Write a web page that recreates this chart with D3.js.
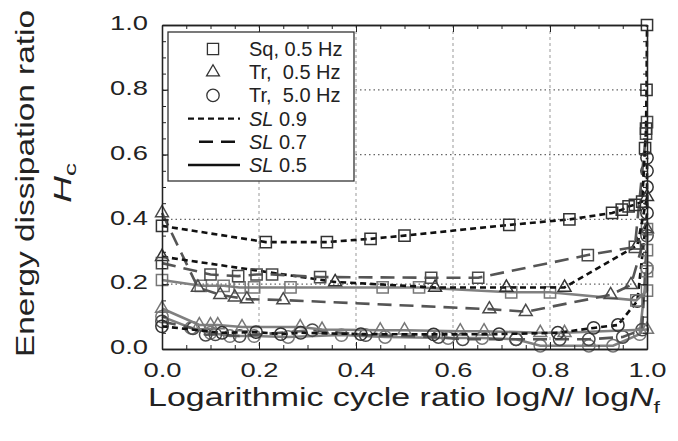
<!DOCTYPE html>
<html>
<head>
<meta charset="utf-8">
<script src="https://cdn.jsdelivr.net/npm/d3@7"></script>
<style>
  body { margin: 0; background: #fff; }
  text { font-family: "Liberation Sans", Arial, sans-serif; fill: #222; }
</style>
</head>
<body>
<div id="chart"></div>
<script>
// values (x = logN/logNf, y = Hc)
const xTicks = [0, 0.2, 0.4, 0.6, 0.8, 1.0];
const yTicks = [0, 0.2, 0.4, 0.6, 0.8, 1.0];
const minorTicks = d3.range(0, 1.0001, 0.05);
const gridValues = [0.2, 0.4, 0.6, 0.8];

// square wave, 0.5 Hz
const sqX09 = [0, 0.214, 0.34, 0.43, 0.50, 0.716, 0.84, 0.928, 0.948, 0.962, 0.975, 0.99, 0.996, 0.998, 0.999, 1.0];
const sqY09 = [0.38, 0.33, 0.33, 0.34, 0.35, 0.383, 0.40, 0.42, 0.43, 0.44, 0.445, 0.455, 0.62, 0.68, 0.80, 1.0];
const sqX07 = [0, 0.10, 0.157, 0.195, 0.227, 0.326, 0.555, 0.652, 0.878, 0.975, 0.998, 1.0];
const sqY07 = [0.265, 0.23, 0.225, 0.23, 0.23, 0.222, 0.22, 0.22, 0.29, 0.315, 0.665, 0.70];
const sqX05 = [0, 0.08, 0.127, 0.16, 0.19, 0.265, 0.455, 0.53, 0.72, 0.80, 0.978, 1.0, 1.0, 1.0, 1.0];
const sqY05 = [0.213, 0.195, 0.195, 0.19, 0.19, 0.19, 0.19, 0.19, 0.175, 0.175, 0.15, 0.18, 0.24, 0.305, 0.37];

// triangular wave, 0.5 Hz
const trX09 = [0, 0.357, 0.563, 0.71, 0.83, 0.98, 1.0];
const trY09 = [0.285, 0.207, 0.19, 0.19, 0.19, 0.32, 0.47];
const trX07 = [0, 0.074, 0.12, 0.15, 0.175, 0.25, 0.675, 0.75, 0.925, 0.967, 1.0];
const trY07 = [0.42, 0.19, 0.167, 0.16, 0.154, 0.151, 0.123, 0.115, 0.167, 0.198, 0.37];
const trX05 = [0, 0.077, 0.1, 0.115, 0.165, 0.285, 0.33, 0.45, 0.5, 0.615, 0.664, 0.78, 0.83, 1.0];
const trY05 = [0.125, 0.074, 0.074, 0.074, 0.068, 0.068, 0.06, 0.058, 0.058, 0.055, 0.055, 0.05, 0.05, 0.06];

// triangular wave, 5.0 Hz
const ciX09 = [0, 0.124, 0.194, 0.245, 0.286, 0.41, 0.56, 0.695, 0.816, 0.89, 0.94, 0.98, 1.0, 1.0, 1.0, 1.0];
const ciY09 = [0.07, 0.05, 0.052, 0.046, 0.05, 0.046, 0.045, 0.046, 0.05, 0.065, 0.074, 0.148, 0.42, 0.5, 0.55, 0.59];
const ciX07 = [0, 0.064, 0.09, 0.11, 0.16, 0.31, 0.42, 0.57, 0.62, 0.73, 0.82, 0.88, 0.95, 0.99, 1.0];
const ciY07 = [0.085, 0.064, 0.044, 0.045, 0.04, 0.058, 0.043, 0.037, 0.03, 0.03, 0.03, 0.03, 0.037, 0.06, 0.35];
const ciX05 = [0, 0.06, 0.1, 0.14, 0.19, 0.26, 0.37, 0.46, 0.59, 0.66, 0.73, 0.78, 0.88, 0.93, 0.985, 1.0];
const ciY05 = [0.10, 0.065, 0.05, 0.04, 0.04, 0.037, 0.043, 0.037, 0.034, 0.034, 0.03, 0.01, 0.01, 0.01, 0.046, 0.25];

const legendNames = ["Sq, 0.5 Hz", "Tr,  0.5 Hz", "Tr,  5.0 Hz"];
const legendLevels = ["0.9", "0.7", "0.5"];

const width = 678, height = 441;
const margin = { top: 25, right: 31, bottom: 92, left: 162 };
const w = width - margin.left - margin.right;
const h = height - margin.top - margin.bottom;

const svg = d3.select("#chart").append("svg")
  .attr("width", width)
  .attr("height", height);

const g = svg.append("g")
  .attr("transform", `translate(${margin.left},${margin.top})`);

const x = d3.scaleLinear().domain([0, 1]).range([0, w]);
const y = d3.scaleLinear().domain([0, 1]).range([h, 0]);

// grid
g.selectAll(".vgrid")
  .data(gridValues)
  .enter().append("line")
  .attr("x1", d => x(d)).attr("x2", d => x(d))
  .attr("y1", 0).attr("y2", h)
  .attr("stroke", "#999").attr("stroke-width", 1)
  .attr("stroke-dasharray", "3,3");

g.selectAll(".hgrid")
  .data(gridValues)
  .enter().append("line")
  .attr("x1", 0).attr("x2", w)
  .attr("y1", d => y(d)).attr("y2", d => y(d))
  .attr("stroke", "#666").attr("stroke-width", 1.2)
  .attr("stroke-dasharray", "1.5,3");

const dashes = { "0.9": "6,4", "0.7": "14,8", "0.5": null };
const lineColor = { "0.9": "#111", "0.7": "#555", "0.5": "#808080" };
const markColor = { "0.9": "#333", "0.7": "#4a4a4a", "0.5": "#777" };
const shapes = { sq: d3.symbolSquare, tr: d3.symbolTriangle, ci: d3.symbolCircle };
const shapeSize = { sq: 125, tr: 72, ci: 120 };

const series = [
  { shape: "ci", sl: "0.5", xs: ciX05, ys: ciY05 },
  { shape: "ci", sl: "0.7", xs: ciX07, ys: ciY07 },
  { shape: "tr", sl: "0.5", xs: trX05, ys: trY05 },
  { shape: "ci", sl: "0.9", xs: ciX09, ys: ciY09 },
  { shape: "sq", sl: "0.5", xs: sqX05, ys: sqY05 },
  { shape: "tr", sl: "0.7", xs: trX07, ys: trY07 },
  { shape: "tr", sl: "0.9", xs: trX09, ys: trY09 },
  { shape: "sq", sl: "0.7", xs: sqX07, ys: sqY07 },
  { shape: "sq", sl: "0.9", xs: sqX09, ys: sqY09 }
];

const line = d3.line().x(d => x(d[0])).y(d => y(d[1]));

series.forEach(s => {
  const pts = s.xs.map((v, i) => [v, s.ys[i]]);
  g.append("path")
    .datum(pts)
    .attr("d", line)
    .attr("fill", "none")
    .attr("stroke", lineColor[s.sl])
    .attr("stroke-width", 2.6)
    .attr("stroke-dasharray", dashes[s.sl]);

  g.selectAll(null)
    .data(pts)
    .enter().append("path")
    .attr("d", d3.symbol().type(shapes[s.shape]).size(shapeSize[s.shape]))
    .attr("transform", d => `translate(${x(d[0])},${y(d[1])})`)
    .attr("fill", "none")
    .attr("stroke", markColor[s.sl])
    .attr("stroke-width", 1.5);
});

// axes, ticks inward on all four sides
function styleAxis(sel) {
  sel.select(".domain").attr("stroke", "#222").attr("stroke-width", 1.3);
  sel.selectAll(".tick line").attr("stroke", "#222").attr("stroke-width", 1);
  sel.selectAll(".tick text")
    .style("font-size", "21px").attr("fill", "#222")
    .attr("textLength", 38).attr("lengthAdjust", "spacingAndGlyphs");
}

g.append("g").attr("transform", `translate(0,${h})`)
  .call(d3.axisBottom(x).tickValues(xTicks).tickFormat(d3.format(".1f"))
    .tickSizeInner(-7).tickSizeOuter(0).tickPadding(13))
  .call(styleAxis);
g.append("g").attr("transform", `translate(0,${h})`)
  .call(d3.axisBottom(x).tickValues(minorTicks).tickFormat("").tickSizeInner(-4).tickSizeOuter(0))
  .call(styleAxis);
g.append("g")
  .call(d3.axisTop(x).tickValues(xTicks).tickFormat("").tickSizeInner(-7).tickSizeOuter(0))
  .call(styleAxis);
g.append("g")
  .call(d3.axisTop(x).tickValues(minorTicks).tickFormat("").tickSizeInner(-4).tickSizeOuter(0))
  .call(styleAxis);

g.append("g")
  .call(d3.axisLeft(y).tickValues(yTicks).tickFormat(d3.format(".1f"))
    .tickSizeInner(-7).tickSizeOuter(0).tickPadding(14))
  .call(styleAxis)
  .selectAll(".tick text").attr("dy", "0.22em");
g.append("g")
  .call(d3.axisLeft(y).tickValues(minorTicks).tickFormat("").tickSizeInner(-4).tickSizeOuter(0))
  .call(styleAxis);
g.append("g").attr("transform", `translate(${w},0)`)
  .call(d3.axisRight(y).tickValues(yTicks).tickFormat("").tickSizeInner(-7).tickSizeOuter(0))
  .call(styleAxis);
g.append("g").attr("transform", `translate(${w},0)`)
  .call(d3.axisRight(y).tickValues(minorTicks).tickFormat("").tickSizeInner(-4).tickSizeOuter(0))
  .call(styleAxis);

// legend
const legend = svg.append("g").attr("transform", "translate(168,32)");
legend.append("rect")
  .attr("width", 186).attr("height", 149)
  .attr("fill", "#fff").attr("stroke", "#333").attr("stroke-width", 1.3);

const rowY = d => 17 + d * 23.2;
const legendShapes = ["sq", "tr", "ci"];
legendShapes.forEach((sh, i) => {
  legend.append("path")
    .attr("d", d3.symbol().type(shapes[sh]).size(shapeSize[sh]))
    .attr("transform", `translate(45,${rowY(i)})`)
    .attr("fill", "none").attr("stroke", "#333").attr("stroke-width", 1.3);
  legend.append("text")
    .attr("x", 81).attr("y", rowY(i) + 7)
    .attr("xml:space", "preserve")
    .style("white-space", "pre")
    .style("font-size", "20px")
    .text(legendNames[i]);
});
legendLevels.forEach((lv, i) => {
  const ry = rowY(i + 3);
  legend.append("line")
    .attr("x1", lv === "0.7" ? 31 : 20).attr("x2", 72)
    .attr("y1", ry).attr("y2", ry)
    .attr("stroke", "#111").attr("stroke-width", 2.4)
    .attr("stroke-dasharray", lv === "0.9" ? "6,4" : lv === "0.7" ? "14,8" : null);
  const t = legend.append("text")
    .attr("x", 81).attr("y", ry + 7)
    .style("font-size", "20px");
  t.append("tspan").style("font-style", "italic").text("SL");
  t.append("tspan").text(" " + lv);
});

// axis titles (the reference uses a wide face, so glyphs are stretched to its lengths)
const xt = svg.append("text")
  .attr("x", 148).attr("y", 406)
  .attr("textLength", 512).attr("lengthAdjust", "spacingAndGlyphs")
  .style("font-size", "25px");
xt.append("tspan").text("Logarithmic cycle ratio log");
xt.append("tspan").style("font-style", "italic").text("N");
xt.append("tspan").text("/ log");
xt.append("tspan").style("font-style", "italic").text("N");
xt.append("tspan").attr("dy", 7).style("font-size", "17px").text("f");

const yt = svg.append("g").attr("transform", "translate(34,357) rotate(-90)");
yt.append("text")
  .attr("textLength", 347).attr("lengthAdjust", "spacingAndGlyphs")
  .style("font-size", "26px")
  .text("Energy dissipation ratio");
const yt2 = svg.append("g").attr("transform", "translate(71,203) rotate(-90)")
  .append("text")
  .attr("textLength", 40).attr("lengthAdjust", "spacingAndGlyphs")
  .style("font-size", "23px");
yt2.append("tspan").style("font-style", "italic").text("H");
yt2.append("tspan").attr("dy", 5).style("font-size", "16px").text("c");
</script>
</body>
</html>
